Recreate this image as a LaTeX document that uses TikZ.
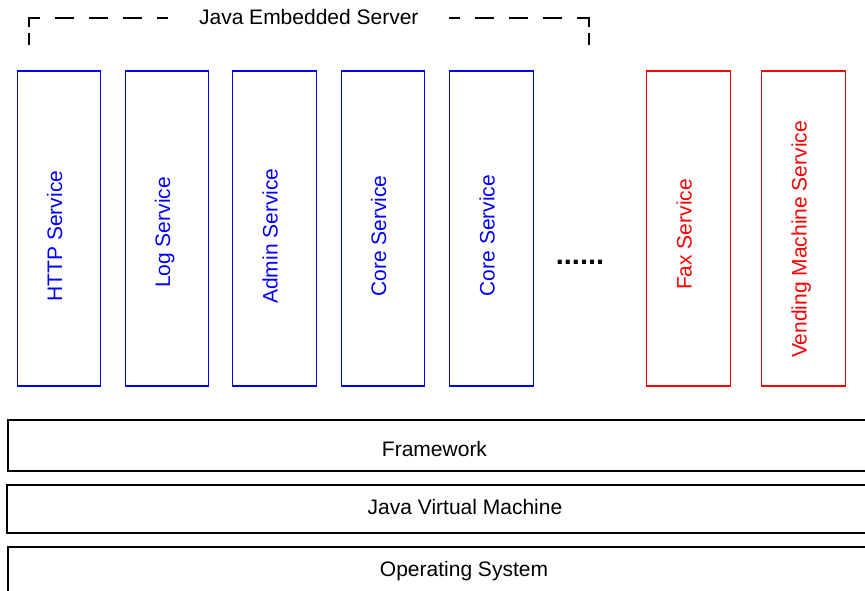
\documentclass[tikz,border=0pt]{standalone}
\usepackage{fontspec}
\setmainfont{Liberation Sans}
\usetikzlibrary{calc}

\begin{document}
\begin{tikzpicture}[x=1pt,y=-1pt,
    font=\fontsize{21}{25}\selectfont,
    svc/.style={draw,line width=1.2pt,minimum width=83.5pt,minimum height=315pt,inner sep=0pt},
    svctext/.style={rotate=90,anchor=base,inner sep=0pt},
    layer/.style={draw,line width=1.5pt},
    layertext/.style={anchor=base,inner sep=0pt},
    bracket/.style={line width=1.5pt,dash pattern=on 19pt off 15pt,dash phase=8pt},
    bracketend/.style={line width=1.5pt,dash pattern=on 9.5pt off 6pt on 20pt off 5pt}]
  \useasboundingbox (0,0) rectangle (865,590);
  \clip (0,0) rectangle (865,590);

  \node[layertext] (Jes) at (308.8,24) {Java Embedded Server};
  \draw[bracket] (168,18) -- (29,18);
  \draw[bracketend] (29,17.25) -- (29,45);
  \draw[bracket] (449,18) -- (589,18);
  \draw[bracketend] (589,17.25) -- (589,45);

  \node[svc,blue] (Http) at (59,228.5) {};
  \node[svc,blue] (Log) at (167,228.5) {};
  \node[svc,blue] (Admin) at (274.5,228.5) {};
  \node[svc,blue] (Core) at (383,228.5) {};
  \node[svc,blue] (CoreB) at (491.5,228.5) {};
  \node[svc,red] (Fax) at (688.5,228.5) {};
  \node[svc,red] (Vend) at (803.5,228.5) {};
  \node[svctext,blue] (HttpT) at ($(Http.center)+(3,7.5)$) {HTTP Service};
  \node[svctext,blue] (LogT) at ($(Log.center)+(3,4)$) {Log Service};
  \node[svctext,blue] (AdminT) at ($(Admin.center)+(3,7.5)$) {Admin Service};
  \node[svctext,blue] (CoreT) at ($(Core.center)+(3,7.5)$) {Core Service};
  \node[svctext,blue] (CoreBT) at ($(CoreB.center)+(3,7)$) {Core Service};
  \node[svctext,red] (FaxT) at ($(Fax.center)+(3,6)$) {Fax Service};
  \node[svctext,red] (VendT) at ($(Vend.center)+(3,11)$) {Vending Machine Service};
  \node[font=\fontsize{29}{33}\selectfont\bfseries,anchor=base] (Dots) at (580,264.5) {......};

  \draw[layer] (8,420) rectangle (880,471);
  \node[layertext] (Frame) at (434.5,456) {Framework};
  \draw[layer] (7,485) rectangle (880,533);
  \node[layertext] (Jvm) at (465,514) {Java Virtual Machine};
  \draw[layer] (8,547) rectangle (880,600);
  \node[layertext] (Os) at (464,576) {Operating System};
\end{tikzpicture}
\end{document}
